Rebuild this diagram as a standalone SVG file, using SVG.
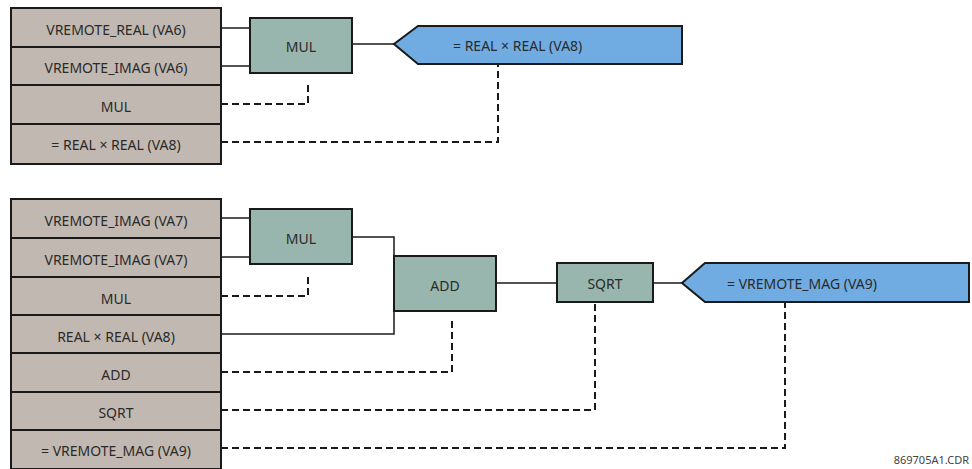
<svg xmlns="http://www.w3.org/2000/svg" width="972" height="469" viewBox="0 0 972 469">
<style>
.cell{fill:#c1b9b1;stroke:#1a1a1a;stroke-width:2}
.op{fill:#98b6ad;stroke:#1a1a1a;stroke-width:2}
.out{fill:#70ace2;stroke:#1a1a1a;stroke-width:2}
.t{font-family:"Noto Sans","DejaVu Sans",sans-serif;font-size:14px;fill:#2a2a2a;dominant-baseline:central}
.m{text-anchor:middle}
.w{fill:none;stroke:#1a1a1a;stroke-width:1.5}
.d{fill:none;stroke:#1a1a1a;stroke-width:2;stroke-dasharray:7 4}
.cap{font-family:"Noto Sans","DejaVu Sans",sans-serif;font-size:11px;fill:#444}
</style>
<rect width="972" height="469" fill="#fff"/>
<g id="connectors">
<path class="w" d="M221 28H250M221 66H250M352 44H394"/>
<path class="d" d="M221 104H308V83"/>
<path class="d" d="M221 142H498V64"/>
<path class="w" d="M221 218H250M221 257H250M352 237H394V334H221M496 283H557M653 283H682"/>
<path class="d" d="M221 296H308V273"/>
<path class="d" d="M221 372H452V320"/>
<path class="d" d="M221 410H595V302"/>
<path class="d" d="M221 448H785V302"/>
</g>
<g id="stack1">
<rect class="cell" x="11" y="8" width="210" height="39"/>
<rect class="cell" x="11" y="47" width="210" height="38"/>
<rect class="cell" x="11" y="85" width="210" height="39"/>
<rect class="cell" x="11" y="124" width="210" height="40"/>
<text class="t m" x="116" y="29">VREMOTE_REAL (VA6)</text>
<text class="t m" x="116" y="67">VREMOTE_IMAG (VA6)</text>
<text class="t m" x="116" y="106">MUL</text>
<text class="t m" x="116" y="144">= REAL × REAL (VA8)</text>
</g>
<g id="mul1">
<rect class="op" x="250" y="18" width="102" height="55"/>
<text class="t m" x="301" y="46">MUL</text>
</g>
<g id="out1">
<path class="out" d="M394 44L418 26H682V64H418Z"/>
<text class="t" x="453" y="45">= REAL × REAL (VA8)</text>
</g>
<g id="stack2">
<rect class="cell" x="11" y="199" width="210" height="39"/>
<rect class="cell" x="11" y="238" width="210" height="39"/>
<rect class="cell" x="11" y="277" width="210" height="38"/>
<rect class="cell" x="11" y="315" width="210" height="38"/>
<rect class="cell" x="11" y="353" width="210" height="39"/>
<rect class="cell" x="11" y="392" width="210" height="38"/>
<rect class="cell" x="11" y="430" width="210" height="39"/>
<text class="t m" x="116" y="220">VREMOTE_IMAG (VA7)</text>
<text class="t m" x="116" y="259">VREMOTE_IMAG (VA7)</text>
<text class="t m" x="116" y="298">MUL</text>
<text class="t m" x="116" y="336">REAL × REAL (VA8)</text>
<text class="t m" x="116" y="374">ADD</text>
<text class="t m" x="116" y="412">SQRT</text>
<text class="t m" x="116" y="450">= VREMOTE_MAG (VA9)</text>
</g>
<g id="mul2">
<rect class="op" x="250" y="209" width="102" height="55"/>
<text class="t m" x="301" y="238">MUL</text>
</g>
<g id="add">
<rect class="op" x="394" y="256" width="102" height="55"/>
<text class="t m" x="445" y="285">ADD</text>
</g>
<g id="sqrt">
<rect class="op" x="557" y="263" width="96" height="39"/>
<text class="t m" x="605" y="283">SQRT</text>
</g>
<g id="out2">
<path class="out" d="M682 283L705 263H969V302H705Z"/>
<text class="t" x="727" y="283">= VREMOTE_MAG (VA9)</text>
</g>
<text class="cap" x="969" y="464" text-anchor="end">869705A1.CDR</text>
</svg>
